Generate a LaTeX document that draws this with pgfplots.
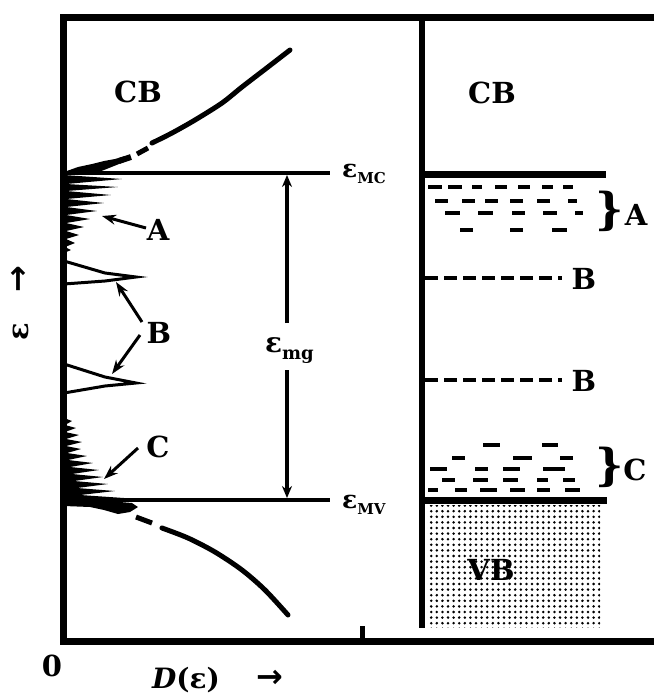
\documentclass[border=0pt]{standalone}
\usepackage{fontspec}
\setmainfont{DejaVu Serif}
\newfontfamily\arrowfont{DejaVu Sans}
\usepackage{pgfplots}
\pgfplotsset{compat=1.18}
\usetikzlibrary{arrows.meta,patterns.meta}

\newcommand\lbl{\fontsize{14.5}{15}\selectfont\bfseries}
\newcommand\sub[2][7.5]{\raisebox{-0.5ex}{\fontsize{#1}{#1}\selectfont\bfseries #2}}
\newcommand\arr{{\arrowfont\bfseries\fontsize{16}{16}\selectfont →}}

\begin{document}
\begin{tikzpicture}
\useasboundingbox (-32pt,-27.5pt) rectangle (295pt,320.5pt);
\begin{axis}[
  at={(0,0)}, anchor=south west,
  width=295pt, height=312pt, scale only axis,
  xmin=64, xmax=654, ymin=17, ymax=641, y dir=reverse,
  hide axis, clip=false,
  every axis plot/.append style={black},
  tip/.style={-{Stealth[length=7pt,width=5pt]}},
]

% frame and separators
\addplot[line width=3.5pt] coordinates {(654,17)(64,17)(64,641)(654,641)};
\addplot[line width=2.5pt] coordinates {(362,626)(362,641)};
\addplot[line width=3pt] coordinates {(422,17)(422,628)};

% ---------------- left: density of states ----------------
% mobility edges
\addplot[line width=2pt] coordinates {(64,173)(330,173)};
\addplot[line width=2pt] coordinates {(64,500)(330,500)};

% mobility gap arrows
\addplot[line width=1.6pt, -{Stealth[length=6pt,width=5pt]}] coordinates {(287,323)(287,175)};
\addplot[line width=1.6pt, -{Stealth[length=6pt,width=5pt]}] coordinates {(287,370)(287,498)};

% conduction band
\addplot[line width=2.5pt, line cap=round, smooth] coordinates {
  (152,143)(172,133)(195,120)(222,103)(242,87)(268,67)(290,50)};
\addplot[line width=2.5pt] coordinates {(137,154)(148,148)};
\addplot[line width=3pt] coordinates {(119,161)(131,157)};
\addplot[fill=black, draw=none] coordinates {
  (64,172)(78,167)(92,164)(104,161)(115,159)(125,156)(131,158)
  (124,162)(114,166)(104,170)(96,173)(64,174)};

% tail states A
\addplot[fill=black, draw=none] coordinates {
  (64,175)(122,179)(66,184)(118,187)(66,191)(111,195)(66,199)(104,203)
  (66,207)(97,211)(66,215)(90,219)(66,223)(84,227)(66,231)(79,235)
  (66,239)(75,243)(65,247)(71,250)(64,253)};

% localized levels B
\addplot[line width=1.5pt, line join=miter] coordinates {
  (64,261)(105,273)(136,277)(105,281)(64,284)};
\addplot[line width=1.5pt, line join=miter] coordinates {
  (64,364)(105,377)(136,383)(105,386)(64,393)};

% tail states C
\addplot[fill=black, draw=none] coordinates {
  (64,418)(72,421)(65,425)(76,428)(65,432)(79,435)(66,439)(82,442)
  (66,446)(81,449)(67,453)(87,456)(68,460)(93,463)(70,467)(99,470)
  (72,474)(103,477)(74,481)(108,484)(77,488)(115,491)(80,495)(124,498)
  (96,500)(132,503)(138,507)(130,512)(118,514)(104,510)(90,507)(64,506)};

% valence band
\addplot[line width=2.5pt] coordinates {(136,517)(152,523)};
\addplot[line width=2.5pt, line cap=round, smooth] coordinates {
  (162,528)(188,538)(215,552)(242,570)(265,590)(288,615)};

% pointers
\addplot[line width=1.5pt, tip] coordinates {(146,228)(102,216)};
\addplot[line width=1.5pt, tip] coordinates {(142,322)(116,282)};
\addplot[line width=1.5pt, tip] coordinates {(140,335)(112,374)};
\addplot[line width=1.5pt, tip] coordinates {(138,448)(104,479)};

\node[font=\lbl] at (axis cs:138,92) {CB};
\node[font=\lbl] at (axis cs:158,230) {A};
\node[font=\lbl] at (axis cs:159,333) {B};
\node[font=\lbl] at (axis cs:158,447) {C};
\node[anchor=base west, font=\fontsize{12.5}{13}\selectfont\bfseries] at (axis cs:335,177) {ε\sub{MC}};
\node[anchor=base west, font=\fontsize{12.5}{13}\selectfont\bfseries] at (axis cs:335,508) {ε\sub{MV}};
\node[anchor=base west, font=\fontsize{14}{14}\selectfont\bfseries] at (axis cs:258,352) {ε\sub[9]{mg}};

% ---------------- right: band scheme ----------------
\addplot[line width=3.5pt] coordinates {(422,174)(606,174)};
\addplot[line width=3.5pt] coordinates {(422,500)(607,500)};
\addplot[draw=none, pattern={Dots[distance=2.8pt,radius=0.7pt]}, pattern color=black]
  coordinates {(427,505)(600,505)(600,627)(427,627)};

\addplot[line width=2pt, dash pattern=on 6.5pt off 3pt] coordinates {(425,278)(562,278)};
\addplot[line width=2pt, dash pattern=on 6.5pt off 3pt] coordinates {(425,380)(562,380)};

% tail levels A and C
\addplot[line width=2pt, quiver={u=\thisrow{len}, v=0}] table {
x   y   len
428 187 14
448 187 14
472 187 10
495 187 12
518 187 12
542 187 11
563 187 10
435 201 13
462 201 13
485 201 13
510 201 13
537 201 13
568 201 9
445 213 15
478 213 15
512 213 13
543 213 14
575 213 8
460 230 13
510 230 13
552 230 15
483 445 17
542 445 16
452 458 13
513 458 19
560 458 13
430 469 17
475 469 13
503 469 17
543 469 22
442 480 13
473 480 15
503 480 15
537 480 11
563 480 12
428 490 10
455 490 12
480 490 17
510 490 15
537 490 13
565 490 15
};

\node[font=\lbl] at (axis cs:492,93) {CB};
\node[font=\lbl] at (axis cs:491,570) {VB};
\node[font=\lbl] at (axis cs:584,279) {B};
\node[font=\lbl] at (axis cs:584,381) {B};
\node[font=\fontsize{22}{22}\selectfont\bfseries] at (axis cs:610,211) {\}};
\node[font=\fontsize{22}{22}\selectfont\bfseries] at (axis cs:610,467) {\}};
\node[font=\lbl] at (axis cs:636,215) {A};
\node[font=\lbl] at (axis cs:635,470) {C};

% axis labels
\node[font=\lbl] at (axis cs:52,666) {0};
\node[font=\fontsize{14}{14}\selectfont\bfseries] at (axis cs:186,680) {\textit{D}(ε)};
\node at (axis cs:270,679) {\arr};
\node[font=\lbl, rotate=90] at (axis cs:20,303) {ε\hspace{15pt}\arr};
\end{axis}
\end{tikzpicture}
\end{document}
